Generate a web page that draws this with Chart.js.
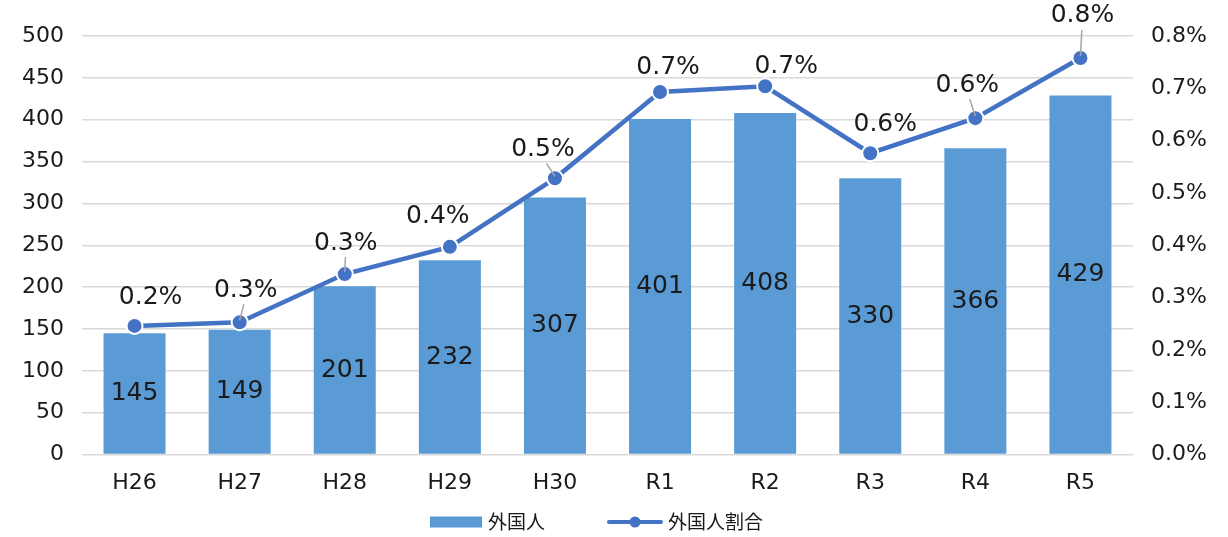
<!DOCTYPE html>
<html>
<head>
<meta charset="utf-8">
<script src="https://cdn.jsdelivr.net/npm/chart.js@4"></script>
<style>
html, body { margin: 0; padding: 0; background: #fff; }
#wrap { width: 1228px; height: 537px; }
</style>
</head>
<body>
<div id="wrap"><canvas id="chart1" width="1228" height="537"></canvas></div>
<script>
// data
const years = ['H26', 'H27', 'H28', 'H29', 'H30', 'R1', 'R2', 'R3', 'R4', 'R5'];
const foreigners = [145, 149, 201, 232, 307, 401, 408, 330, 366, 429];
const foreignShare = [0.246, 0.253, 0.345, 0.397, 0.528, 0.693, 0.704, 0.576, 0.643, 0.758];

// where each % label sits relative to its point (px), and which ones get a leader line
const labelNudge = [[16, -28], [6, -32], [1, -31], [-12, -30], [-12, -29], [8, -24], [21, -20], [15, -29], [-8, -33], [2, -42]];
const leaders = [1, 2, 4, 8, 9];

const FONT = "'DejaVu Sans', 'Noto Sans CJK JP', sans-serif";
const JFONT = "'Noto Sans CJK JP', sans-serif";
const BAR = '#5b9bd5';
const LINE = '#4472c4';

const labelPlugin = {
	id: 'labels',
	afterDatasetsDraw(chart) {
		const ctx = chart.ctx;
		ctx.save();
		ctx.textAlign = 'center';
		ctx.textBaseline = 'middle';
		ctx.fillStyle = '#1a1a1a';
		ctx.font = '25px ' + FONT;
		chart.getDatasetMeta(1).data.forEach((bar, i) => {
			ctx.fillText(String(foreigners[i]), bar.x, (bar.y + bar.base) / 2);
		});
		chart.getDatasetMeta(0).data.forEach((pt, i) => {
			const lx = pt.x + labelNudge[i][0];
			const ly = pt.y + labelNudge[i][1];
			if (leaders.includes(i)) {
				ctx.strokeStyle = '#a6a6a6';
				ctx.lineWidth = 1.5;
				ctx.beginPath();
				ctx.moveTo(lx - (lx - pt.x) * 0.3, ly + 14);
				ctx.lineTo(pt.x, pt.y - 2);
				ctx.stroke();
			}
			ctx.fillText(foreignShare[i].toFixed(1) + '%', lx, ly);
		});
		ctx.restore();
	}
};

const legendPlugin = {
	id: 'myLegend',
	afterDraw(chart) {
		const ctx = chart.ctx;
		const y = 522;
		ctx.save();
		ctx.font = '19px ' + JFONT;
		ctx.textBaseline = 'middle';
		ctx.textAlign = 'left';
		ctx.fillStyle = BAR;
		ctx.fillRect(430, y - 5.5, 52, 11);
		ctx.fillStyle = '#1a1a1a';
		ctx.fillText('外国人', 488, y);
		ctx.strokeStyle = LINE;
		ctx.lineWidth = 4;
		ctx.lineCap = 'round';
		ctx.beginPath();
		ctx.moveTo(609, y);
		ctx.lineTo(661, y);
		ctx.stroke();
		ctx.fillStyle = LINE;
		ctx.beginPath();
		ctx.arc(635, y, 5.5, 0, Math.PI * 2);
		ctx.fill();
		ctx.fillStyle = '#1a1a1a';
		ctx.fillText('外国人割合', 668, y);
		ctx.restore();
	}
};

new Chart(document.getElementById('chart1'), {
	data: {
		labels: years,
		datasets: [{
			type: 'line',
			label: '外国人割合',
			data: foreignShare,
			yAxisID: 'y1',
			borderColor: LINE,
			backgroundColor: LINE,
			borderWidth: 4.5,
			pointRadius: 8,
			pointBorderColor: '#fff',
			pointBorderWidth: 2,
			pointBackgroundColor: LINE,
			tension: 0,
			order: 0
		}, {
			type: 'bar',
			label: '外国人',
			data: foreigners,
			yAxisID: 'y',
			backgroundColor: BAR,
			barPercentage: 0.59,
			categoryPercentage: 1,
			order: 1
		}]
	},
	options: {
		responsive: false,
		animation: false,
		layout: { padding: { top: 36, bottom: 34, left: 0, right: 0 } },
		plugins: {
			legend: { display: false },
			tooltip: { enabled: false }
		},
		scales: {
			x: {
				grid: { display: false },
				border: { display: false },
				ticks: { color: '#1a1a1a', font: { family: FONT, size: 22 }, padding: 7 }
			},
			y: {
				position: 'left',
				min: 0, max: 500,
				ticks: { stepSize: 50, color: '#1a1a1a', font: { family: FONT, size: 22 }, padding: 18 },
				grid: { color: '#d9d9d9', lineWidth: 1.5, drawTicks: false },
				border: { display: false },
				afterFit(scale) { scale.width = 82; }
			},
			y1: {
				position: 'right',
				min: 0, max: 0.8,
				ticks: {
					stepSize: 0.1,
					color: '#1a1a1a',
					font: { family: FONT, size: 22 },
					padding: 18,
					callback: v => v.toFixed(1) + '%'
				},
				grid: { display: false, drawTicks: false },
				border: { display: false },
				afterFit(scale) { scale.width = 95; }
			}
		}
	},
	plugins: [labelPlugin, legendPlugin]
});
</script>
</body>
</html>
